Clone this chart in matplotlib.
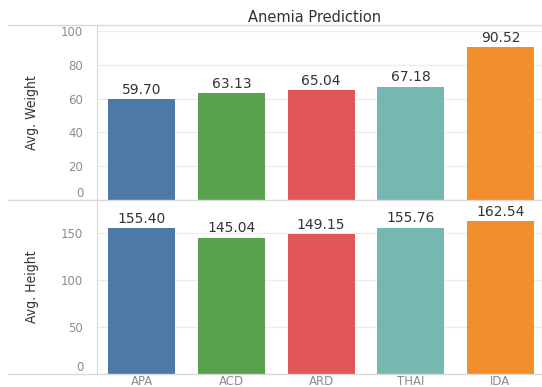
import matplotlib.pyplot as plt
from matplotlib.lines import Line2D

# data
categories = ['APA', 'ACD', 'ARD', 'THAI', 'IDA']
avg_weight = [59.70, 63.13, 65.04, 67.18, 90.52]
avg_height = [155.40, 145.04, 149.15, 155.76, 162.54]
colors = ['#4E79A7', '#59A14F', '#E15759', '#76B7B2', '#F28E2B']

fig = plt.figure(figsize=(5.42, 3.87), dpi=100)
ax1 = fig.add_axes([0.179, 0.483, 0.827, 0.452])
ax2 = fig.add_axes([0.179, 0.0336, 0.827, 0.4496])

x = range(len(categories))
grid_c = '#ececec'
tick_c = '#8c8c8c'


def style(ax, vals, ylim, ticks, fmt):
    ax.bar(x, vals, width=0.75, color=colors, zorder=2)
    ax.set_xlim(-0.5, len(categories) - 0.5)
    ax.set_ylim(*ylim)
    ax.set_yticks(ticks)
    ax.tick_params(axis='y', length=0, labelsize=8.5, labelcolor=tick_c, pad=10)
    ax.yaxis.grid(True, color=grid_c, linewidth=0.8, zorder=0)
    for s in ['top', 'right', 'bottom']:
        ax.spines[s].set_visible(False)
    ax.spines['left'].set_color('#d9d9d9')
    ax.get_yticklabels()[0].set_va('bottom')  # zero label sits above the baseline
    for i, v in enumerate(vals):
        ax.text(i, v + ylim[1] * 0.012, fmt.format(v), ha='center', va='bottom',
                fontsize=10, color='#333333')


style(ax1, avg_weight, (0, 103.5), [0, 20, 40, 60, 80, 100], '{:.2f}')
style(ax2, avg_height, (0, 185), [0, 50, 100, 150], '{:.2f}')

ax1.set_xticks([])
ax2.set_xticks(list(x))
ax2.set_xticklabels(categories)
ax2.tick_params(axis='x', length=0, labelsize=8.5, labelcolor=tick_c, pad=1)

ax1.set_ylabel('Avg. Weight', fontsize=10, fontstretch='condensed', color='#333333')
ax2.set_ylabel('Avg. Height', fontsize=10, fontstretch='condensed', color='#333333')
ax1.yaxis.set_label_coords(-0.13, 0.5)
ax2.yaxis.set_label_coords(-0.13, 0.5)

fig.text(0.581, 0.956, 'Anemia Prediction', ha='center', va='center',
         fontsize=10.5, color='#333333', fontweight='medium')

# separator lines
for yy in [1 - 25 / 387, 1 - 200 / 387, 1 - 374 / 387]:
    fig.add_artist(Line2D([0.015, 1.0], [yy, yy], color='#d9d9d9', linewidth=1))

fig.savefig('out.png', dpi=100)
